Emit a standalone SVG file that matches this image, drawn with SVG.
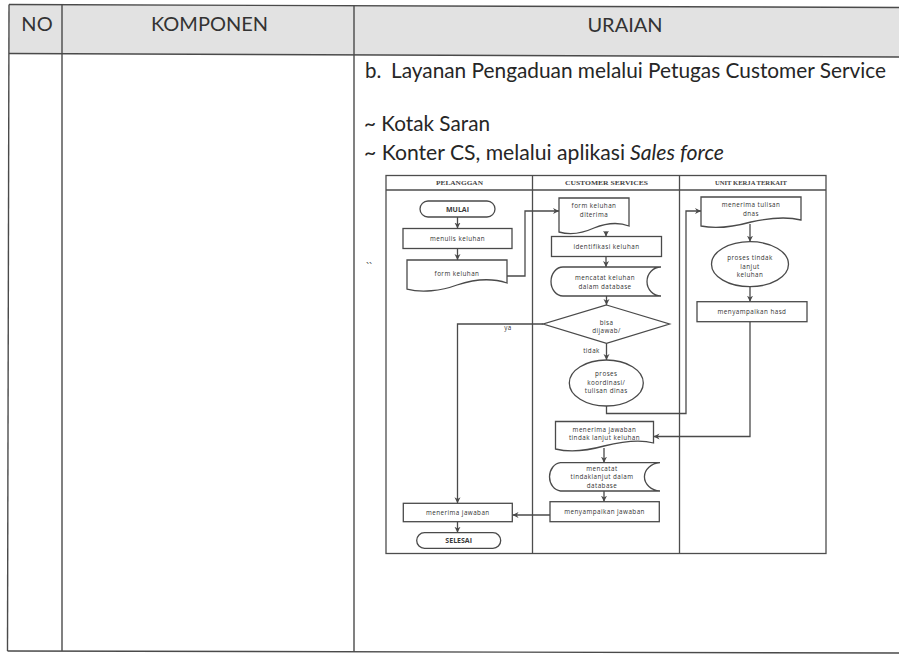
<svg xmlns="http://www.w3.org/2000/svg" width="899" height="654" viewBox="0 0 899 654">
  <style>
    .grid { stroke: #4a4a4a; stroke-width: 1.4; fill: none; }
    .hd { font-family: Lato, "Open Sans", "Liberation Sans", sans-serif; font-size: 20px; fill: #333; text-anchor: middle; }
    .body { font-family: Lato, "Open Sans", "Liberation Sans", sans-serif; font-size: 20.5px; fill: #262626; }
    .lane { stroke: #4d4d4d; stroke-width: 1.3; fill: #fff; }
    .lanehd { font-family: "Liberation Serif", "DejaVu Serif", serif; font-size: 6.5px; font-weight: bold; fill: #444; text-anchor: middle; }
    .shape { stroke: #4a4a4a; stroke-width: 1.3; fill: #fff; }
    .t { font-family: "Open Sans", "Liberation Sans", sans-serif; font-size: 6.3px; letter-spacing: 0.45px; fill: #333; text-anchor: middle; }
    .tb { font-family: "Open Sans", "Liberation Sans", sans-serif; font-size: 7px; font-weight: bold; fill: #3a3a3a; text-anchor: middle; }
    .conn { stroke: #4a4a4a; stroke-width: 1.3; fill: none; }
  </style>
  <defs>
    <marker id="arrow" markerUnits="userSpaceOnUse" markerWidth="7" markerHeight="7" refX="6" refY="3.5" orient="auto">
      <path d="M0,0.5 L6,3.5 L0,6.5 L1.8,3.5 Z" fill="#4a4a4a"/>
    </marker>
  </defs>

  <rect x="0" y="0" width="899" height="654" fill="#fff"/>

  <!-- page table -->
  <g id="page-table">
    <polygon points="9,4.5 899,7.5 899,57 9,53.5" fill="#e2e2e2"/>
    <line class="grid" x1="9" y1="4.5" x2="899" y2="7.5"/>
    <line class="grid" x1="9" y1="53.5" x2="899" y2="57"/>
    <line class="grid" x1="7.5" y1="651" x2="899" y2="653"/>
    <line class="grid" x1="9" y1="4.5" x2="7.5" y2="651"/>
    <line class="grid" x1="62" y1="4.5" x2="62" y2="651"/>
    <line class="grid" x1="354" y1="5.5" x2="354" y2="652"/>
    <text class="hd" x="37" y="31">NO</text>
    <text class="hd" x="209.5" y="31">KOMPONEN</text>
    <text class="hd" x="625" y="32">URAIAN</text>
  </g>

  <!-- description text -->
  <g id="description">
    <text class="body" x="365" y="78">b.</text>
    <text class="body" x="391" y="78" textLength="495" lengthAdjust="spacingAndGlyphs">Layanan Pengaduan melalui Petugas Customer Service</text>
    <text class="body" x="364" y="131" textLength="126" lengthAdjust="spacingAndGlyphs">~ Kotak Saran</text>
    <text class="body" x="364" y="160" textLength="261" lengthAdjust="spacingAndGlyphs">~ Konter CS, melalui aplikasi</text>
    <text class="body" x="630" y="160" font-style="italic" textLength="94" lengthAdjust="spacingAndGlyphs">Sales force</text>
    <text x="366" y="271" font-family="Open Sans, Liberation Sans, sans-serif" font-size="11" fill="#555">``</text>
  </g>

  <!-- swimlanes -->
  <g id="swimlanes">
    <rect class="lane" x="386" y="175.5" width="440" height="378"/>
    <line class="lane" x1="386" y1="190" x2="826" y2="190"/>
    <line class="lane" x1="532.5" y1="175.5" x2="532.5" y2="553.5"/>
    <line class="lane" x1="679.5" y1="175.5" x2="679.5" y2="553.5"/>
    <text class="lanehd" x="459.5" y="185" textLength="47" lengthAdjust="spacingAndGlyphs">PELANGGAN</text>
    <text class="lanehd" x="606.5" y="185" textLength="83" lengthAdjust="spacingAndGlyphs">CUSTOMER SERVICES</text>
    <text class="lanehd" x="751" y="185" textLength="72" lengthAdjust="spacingAndGlyphs">UNIT KERJA TERKAIT</text>
  </g>

  <!-- connectors -->
  <g id="connectors">
    <line class="conn" x1="457.5" y1="217" x2="457.5" y2="228.5" marker-end="url(#arrow)"/>
    <line class="conn" x1="457.5" y1="248.5" x2="457.5" y2="260" marker-end="url(#arrow)"/>
    <polyline class="conn" points="507,276 525,276 525,211 559,211" marker-end="url(#arrow)"/>
    <line class="conn" x1="606" y1="231" x2="606" y2="236.5" marker-end="url(#arrow)"/>
    <line class="conn" x1="606" y1="256.5" x2="606" y2="267" marker-end="url(#arrow)"/>
    <line class="conn" x1="606.5" y1="296" x2="606.5" y2="305" marker-end="url(#arrow)"/>
    <polyline class="conn" points="543.3,324 457.5,324 457.5,503.3" marker-end="url(#arrow)"/>
    <line class="conn" x1="606.5" y1="343.3" x2="606.5" y2="360" marker-end="url(#arrow)"/>
    <polyline class="conn" points="606.5,406 606.5,413.5 686,413.5 686,211 701,211" marker-end="url(#arrow)"/>
    <line class="conn" x1="750" y1="224" x2="750" y2="241.7" marker-end="url(#arrow)"/>
    <line class="conn" x1="750" y1="286.7" x2="750" y2="301.7" marker-end="url(#arrow)"/>
    <polyline class="conn" points="750,321.7 750,436.5 653.5,436.5" marker-end="url(#arrow)"/>
    <line class="conn" x1="604" y1="448" x2="604" y2="462.7" marker-end="url(#arrow)"/>
    <line class="conn" x1="604" y1="491" x2="604" y2="501.7" marker-end="url(#arrow)"/>
    <line class="conn" x1="550" y1="515" x2="512.5" y2="515" marker-end="url(#arrow)"/>
    <line class="conn" x1="457.5" y1="521.7" x2="457.5" y2="532.7" marker-end="url(#arrow)"/>
    <text class="t" x="508" y="330">ya</text>
    <text class="t" x="591.5" y="352.5">tidak</text>
  </g>

  <!-- PELANGGAN lane -->
  <g id="mulai">
    <rect class="shape" x="420" y="201" width="75" height="16" rx="8"/>
    <text class="tb" x="457.5" y="211.5">MULAI</text>
  </g>
  <g id="menulis-keluhan">
    <rect class="shape" x="403" y="228.5" width="109" height="20"/>
    <text class="t" x="457.5" y="240.8">menulis keluhan</text>
  </g>
  <g id="form-keluhan">
    <path class="shape" d="M407,260 H507 V283 C489,277 472,280 457,285 C441,291 421,293 407,289 Z"/>
    <text class="t" x="457" y="276.3">form keluhan</text>
  </g>
  <g id="menerima-jawaban">
    <rect class="shape" x="403.3" y="503.3" width="109" height="18.4"/>
    <text class="t" x="457.8" y="514.6">menerima jawaban</text>
  </g>
  <g id="selesai">
    <rect class="shape" x="416.7" y="532.7" width="84" height="15.6" rx="7.8"/>
    <text class="tb" x="458.7" y="543">SELESAI</text>
  </g>

  <!-- CUSTOMER SERVICES lane -->
  <g id="form-diterima">
    <path class="shape" d="M559,198 H629 V226 C616,221 604,224 594,228 C583,233 570,235 559,232 Z"/>
    <text class="t" x="594" y="208">form keluhan</text>
    <text class="t" x="594" y="216.5">diterima</text>
  </g>
  <g id="identifikasi">
    <rect class="shape" x="551.5" y="236.5" width="110" height="20"/>
    <text class="t" x="606.5" y="248.8">identifikasi keluhan</text>
  </g>
  <g id="catat-keluhan">
    <path class="shape" d="M563,267 H661 A14,14.5 0 0 0 661,296 H563 A12,14.5 0 0 1 563,267 Z"/>
    <text class="t" x="605" y="280">mencatat keluhan</text>
    <text class="t" x="605" y="288.6">dalam database</text>
  </g>
  <g id="bisa-dijawab">
    <polygon class="shape" points="606.5,305 669.5,324 606.5,343.3 543.3,324"/>
    <text class="t" x="606.5" y="324.5">bisa</text>
    <text class="t" x="606.5" y="333">dijawab/</text>
  </g>
  <g id="proses-koordinasi">
    <ellipse class="shape" cx="606.3" cy="383" rx="37" ry="23"/>
    <text class="t" x="606.3" y="376">proses</text>
    <text class="t" x="606.3" y="384.5">koordinasi/</text>
    <text class="t" x="606.3" y="393">tulisan dinas</text>
  </g>
  <g id="terima-jawaban-tl">
    <path class="shape" d="M555.5,421.5 H653.5 V443 C640,439 624,441 604,446 C586,451 568,452 555.5,449 Z"/>
    <text class="t" x="604.5" y="431.5">menerima jawaban</text>
    <text class="t" x="604.5" y="440">tindak lanjut keluhan</text>
  </g>
  <g id="catat-tindaklanjut">
    <path class="shape" d="M560.5,462.7 H660 A17,14.2 0 0 0 660,491 H560.5 A12,14.2 0 0 1 560.5,462.7 Z"/>
    <text class="t" x="602" y="470.8">mencatat</text>
    <text class="t" x="602" y="479.3">tindaklanjut dalam</text>
    <text class="t" x="602" y="487.8">database</text>
  </g>
  <g id="sampaikan-jawaban">
    <rect class="shape" x="550" y="501.7" width="109.3" height="20"/>
    <text class="t" x="604.6" y="514">menyampaikan jawaban</text>
  </g>

  <!-- UNIT KERJA TERKAIT lane -->
  <g id="terima-tulisan">
    <path class="shape" d="M701,197 H801 V220 C785,216 769,218 751,222 C733,227 715,229 701,226 Z"/>
    <text class="t" x="751" y="207">menerima tulisan</text>
    <text class="t" x="751" y="215.5">dnas</text>
  </g>
  <g id="proses-tindak-lanjut">
    <ellipse class="shape" cx="750" cy="264.2" rx="38.5" ry="22.5"/>
    <text class="t" x="750" y="260">proses tindak</text>
    <text class="t" x="750" y="268.5">lanjut</text>
    <text class="t" x="750" y="277">keluhan</text>
  </g>
  <g id="sampaikan-hasil">
    <rect class="shape" x="697" y="301.7" width="110" height="20"/>
    <text class="t" x="752" y="314">menyampaikan hasd</text>
  </g>
</svg>
